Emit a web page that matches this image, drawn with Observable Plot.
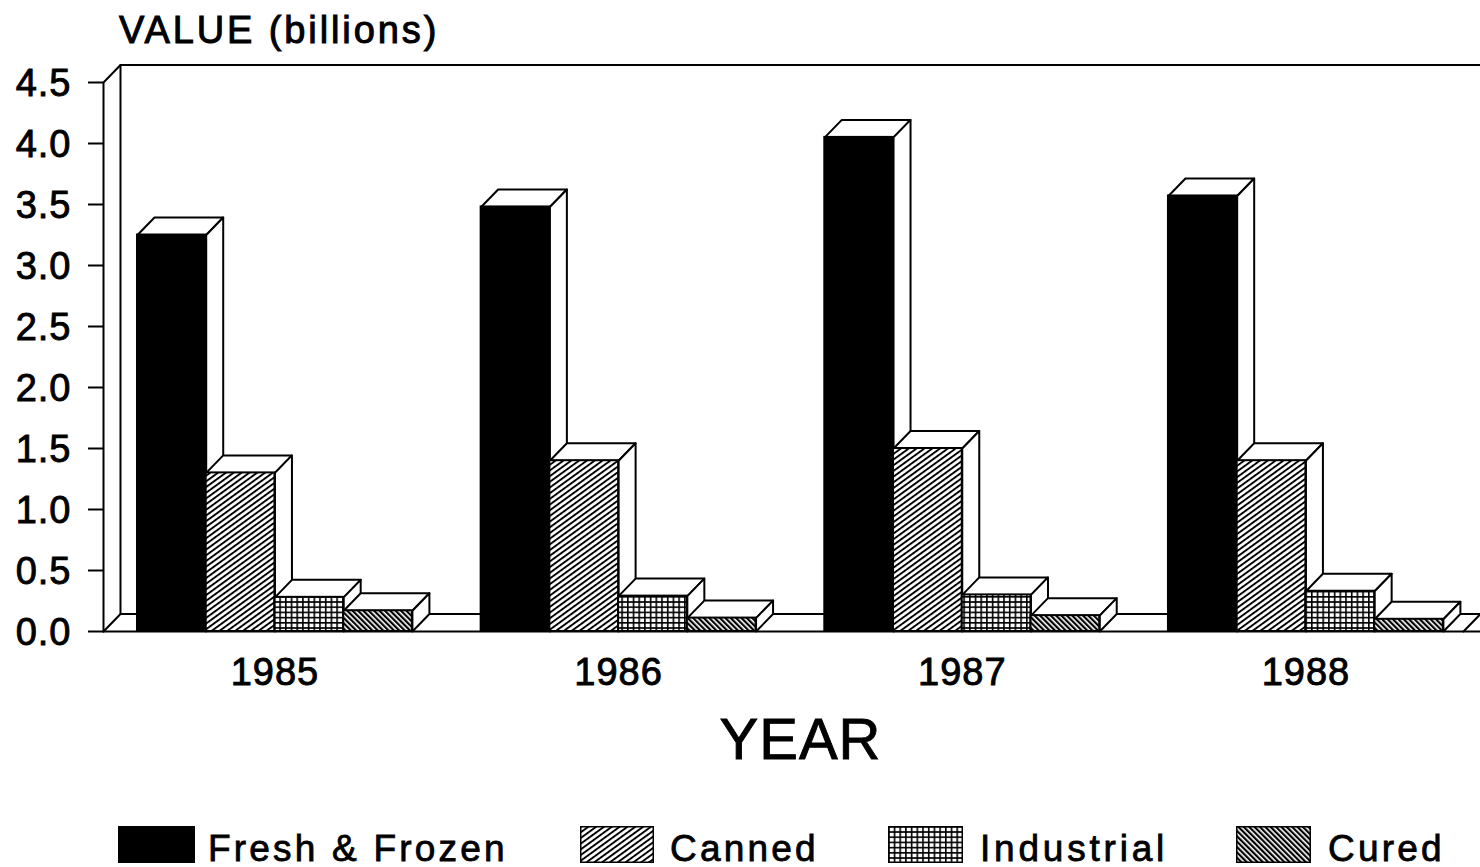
<!DOCTYPE html>
<html>
<head>
<meta charset="utf-8">
<script src="https://cdn.jsdelivr.net/npm/d3@7"></script>
<script src="https://cdn.jsdelivr.net/npm/@observablehq/plot@0.6"></script>
<style>
  html, body { margin: 0; padding: 0; background: #fff; overflow: hidden; }
  body { position: relative; width: 1480px; height: 867px; font-family: "Liberation Sans", Arial, sans-serif; color: #000; }
  #head { height: 50px; position: relative; }
  #title { position: absolute; left: 119px; top: 11px; font-size: 38px; line-height: 38px; letter-spacing: 2.9px; -webkit-text-stroke: 1px #000; white-space: nowrap; }
  #chart svg { display: block; }
  #chart svg text { stroke: #000; stroke-width: 0.9px; letter-spacing: 1px; }
  .swatch { position: absolute; top: 826px; height: 37px; }
  .label { position: absolute; top: 830px; font-size: 37px; line-height: 38px; -webkit-text-stroke: 0.8px #000; white-space: nowrap; }
</style>
</head>
<body>
<div id="head"><div id="title">VALUE (billions)</div></div>
<div id="chart"></div>
<div id="legend"></div>
<script>
const years = [1985, 1986, 1987, 1988];
const seriesNames = ["Fresh & Frozen", "Canned", "Industrial", "Cured"];
const freshFrozen = [3.25, 3.48, 4.05, 3.57];
const canned = [1.30, 1.40, 1.50, 1.40];
const industrial = [0.28, 0.29, 0.30, 0.33];
const cured = [0.17, 0.11, 0.13, 0.10];
const yTicks = [0, 0.5, 1, 1.5, 2, 2.5, 3, 3.5, 4, 4.5];
const seriesFills = ["#000", "url(#pCanned)", "url(#pIndustrial)", "url(#pCured)"];
const seriesValues = [freshFrozen, canned, industrial, cured];

const barW = 0.2;                 // bar width, in years
const depthX = 17 / 343.67;       // 3-D depth in x units
const depthY = 17.5 / 122;        // 3-D depth in y units
const xMin = 1985 - 0.0989, xMax = 1985 + 3.908;
const SW = 2;

const defsMarkup = `
  <pattern id="pCanned" patternUnits="userSpaceOnUse" width="4.6" height="4.6" patternTransform="rotate(-36)">
    <rect width="4.6" height="4.6" fill="#fff"/><rect y="0" width="4.6" height="1.9" fill="#000"/>
  </pattern>
  <pattern id="pIndustrial" patternUnits="userSpaceOnUse" width="5.7" height="5.2">
    <rect width="5.7" height="5.2" fill="#fff"/>
    <rect width="1.6" height="5.2" fill="#000"/><rect width="5.7" height="1.6" fill="#000"/>
  </pattern>
  <pattern id="pCured" patternUnits="userSpaceOnUse" width="3.8" height="3.8" patternTransform="rotate(-45)">
    <rect width="3.8" height="3.8" fill="#fff"/><rect width="2.2" height="3.8" fill="#000"/>
  </pattern>`;

function poly(pts, extra = {}) {
  return Plot.line(pts, {x: "x", y: "y", fill: "white", stroke: "black", strokeWidth: SW, ...extra});
}

const barMarks = years.flatMap((yr, i) => seriesValues.flatMap((vals, k) => {
  const x0 = yr + k * barW, x1 = x0 + barW, v = vals[i];
  return [
    poly([{x: x0, y: v}, {x: x1, y: v}, {x: x1 + depthX, y: v + depthY}, {x: x0 + depthX, y: v + depthY}, {x: x0, y: v}]),
    poly([{x: x1, y: 0}, {x: x1 + depthX, y: depthY}, {x: x1 + depthX, y: v + depthY}, {x: x1, y: v}, {x: x1, y: 0}]),
    Plot.rect([{x0, x1, v}], {x1: "x0", x2: "x1", y1: 0, y2: "v", fill: seriesFills[k], stroke: "black", strokeWidth: SW})
  ];
}));

const line = (pts) => Plot.line(pts, {x: "x", y: "y", stroke: "black", strokeWidth: SW});

const plot = Plot.plot({
  width: 1480,
  height: 760,
  marginLeft: 103,
  marginRight: 0,
  marginTop: 32,
  marginBottom: 179,
  x: {type: "linear", domain: [xMin, xMax]},
  y: {type: "linear", domain: [0, 4.5]},
  style: {fontFamily: '"Liberation Sans", Arial, sans-serif', background: "#fff", overflow: "visible"},
  marks: [
    () => { const g = d3.create("svg:defs"); g.html(defsMarkup); return g.node(); },
    // 3-D frame
    line([{x: xMin, y: 0}, {x: xMin, y: 4.5}, {x: xMin + depthX, y: 4.5 + depthY}, {x: xMax, y: 4.5 + depthY}]),
    line([{x: xMin, y: 0}, {x: xMin + depthX, y: depthY}, {x: xMin + depthX, y: 4.5 + depthY}]),
    line([{x: xMin + depthX, y: depthY}, {x: xMax, y: depthY}]),
    line([{x: xMin, y: 0}, {x: xMax, y: 0}]),
    line([{x: xMax - depthX, y: 0}, {x: xMax, y: depthY}]),
    ...barMarks,
    Plot.axisY({ticks: yTicks, tickSize: 15, text: null, strokeWidth: SW, label: null}),
    Plot.axisY({
      ticks: yTicks, tickFormat: d3.format(".1f"), tickSize: 0, tickPadding: 32, dy: 1.5,
      fontSize: 38, label: null
    }),
    Plot.axisX({
      ticks: years.map(y => y + 0.4), tickFormat: d => String(Math.floor(d)), tickSize: 0, tickPadding: 27,
      fontSize: 38, label: null
    }),
    Plot.text(["YEAR"], {text: d => d, frameAnchor: "bottom", dx: 8.5, dy: 127, fontSize: 58, fill: "#000"})
  ]
});
document.getElementById("chart").appendChild(plot);

// Legend, below the plot
const swatchLeft = [118, 580, 888, 1236];
const swatchWidth = [77, 74, 75, 75];
const labelLeft = [208, 670, 980, 1328];
const labelSpacing = [3.2, 3.2, 3.8, 3.2];
const legend = document.getElementById("legend");
seriesNames.forEach((name, k) => {
  const s = d3.create("svg").attr("class", "swatch")
    .attr("width", swatchWidth[k]).attr("height", 37)
    .style("left", swatchLeft[k] + "px");
  s.append("rect").attr("x", 0.75).attr("y", 0.75)
    .attr("width", swatchWidth[k] - 1.5).attr("height", 35.5)
    .attr("fill", seriesFills[k]).attr("stroke", "#000").attr("stroke-width", 1.5);
  legend.appendChild(s.node());
  const t = document.createElement("div");
  t.className = "label";
  t.style.left = labelLeft[k] + "px";
  t.style.letterSpacing = labelSpacing[k] + "px";
  t.textContent = name;
  legend.appendChild(t);
});
</script>
</body>
</html>
